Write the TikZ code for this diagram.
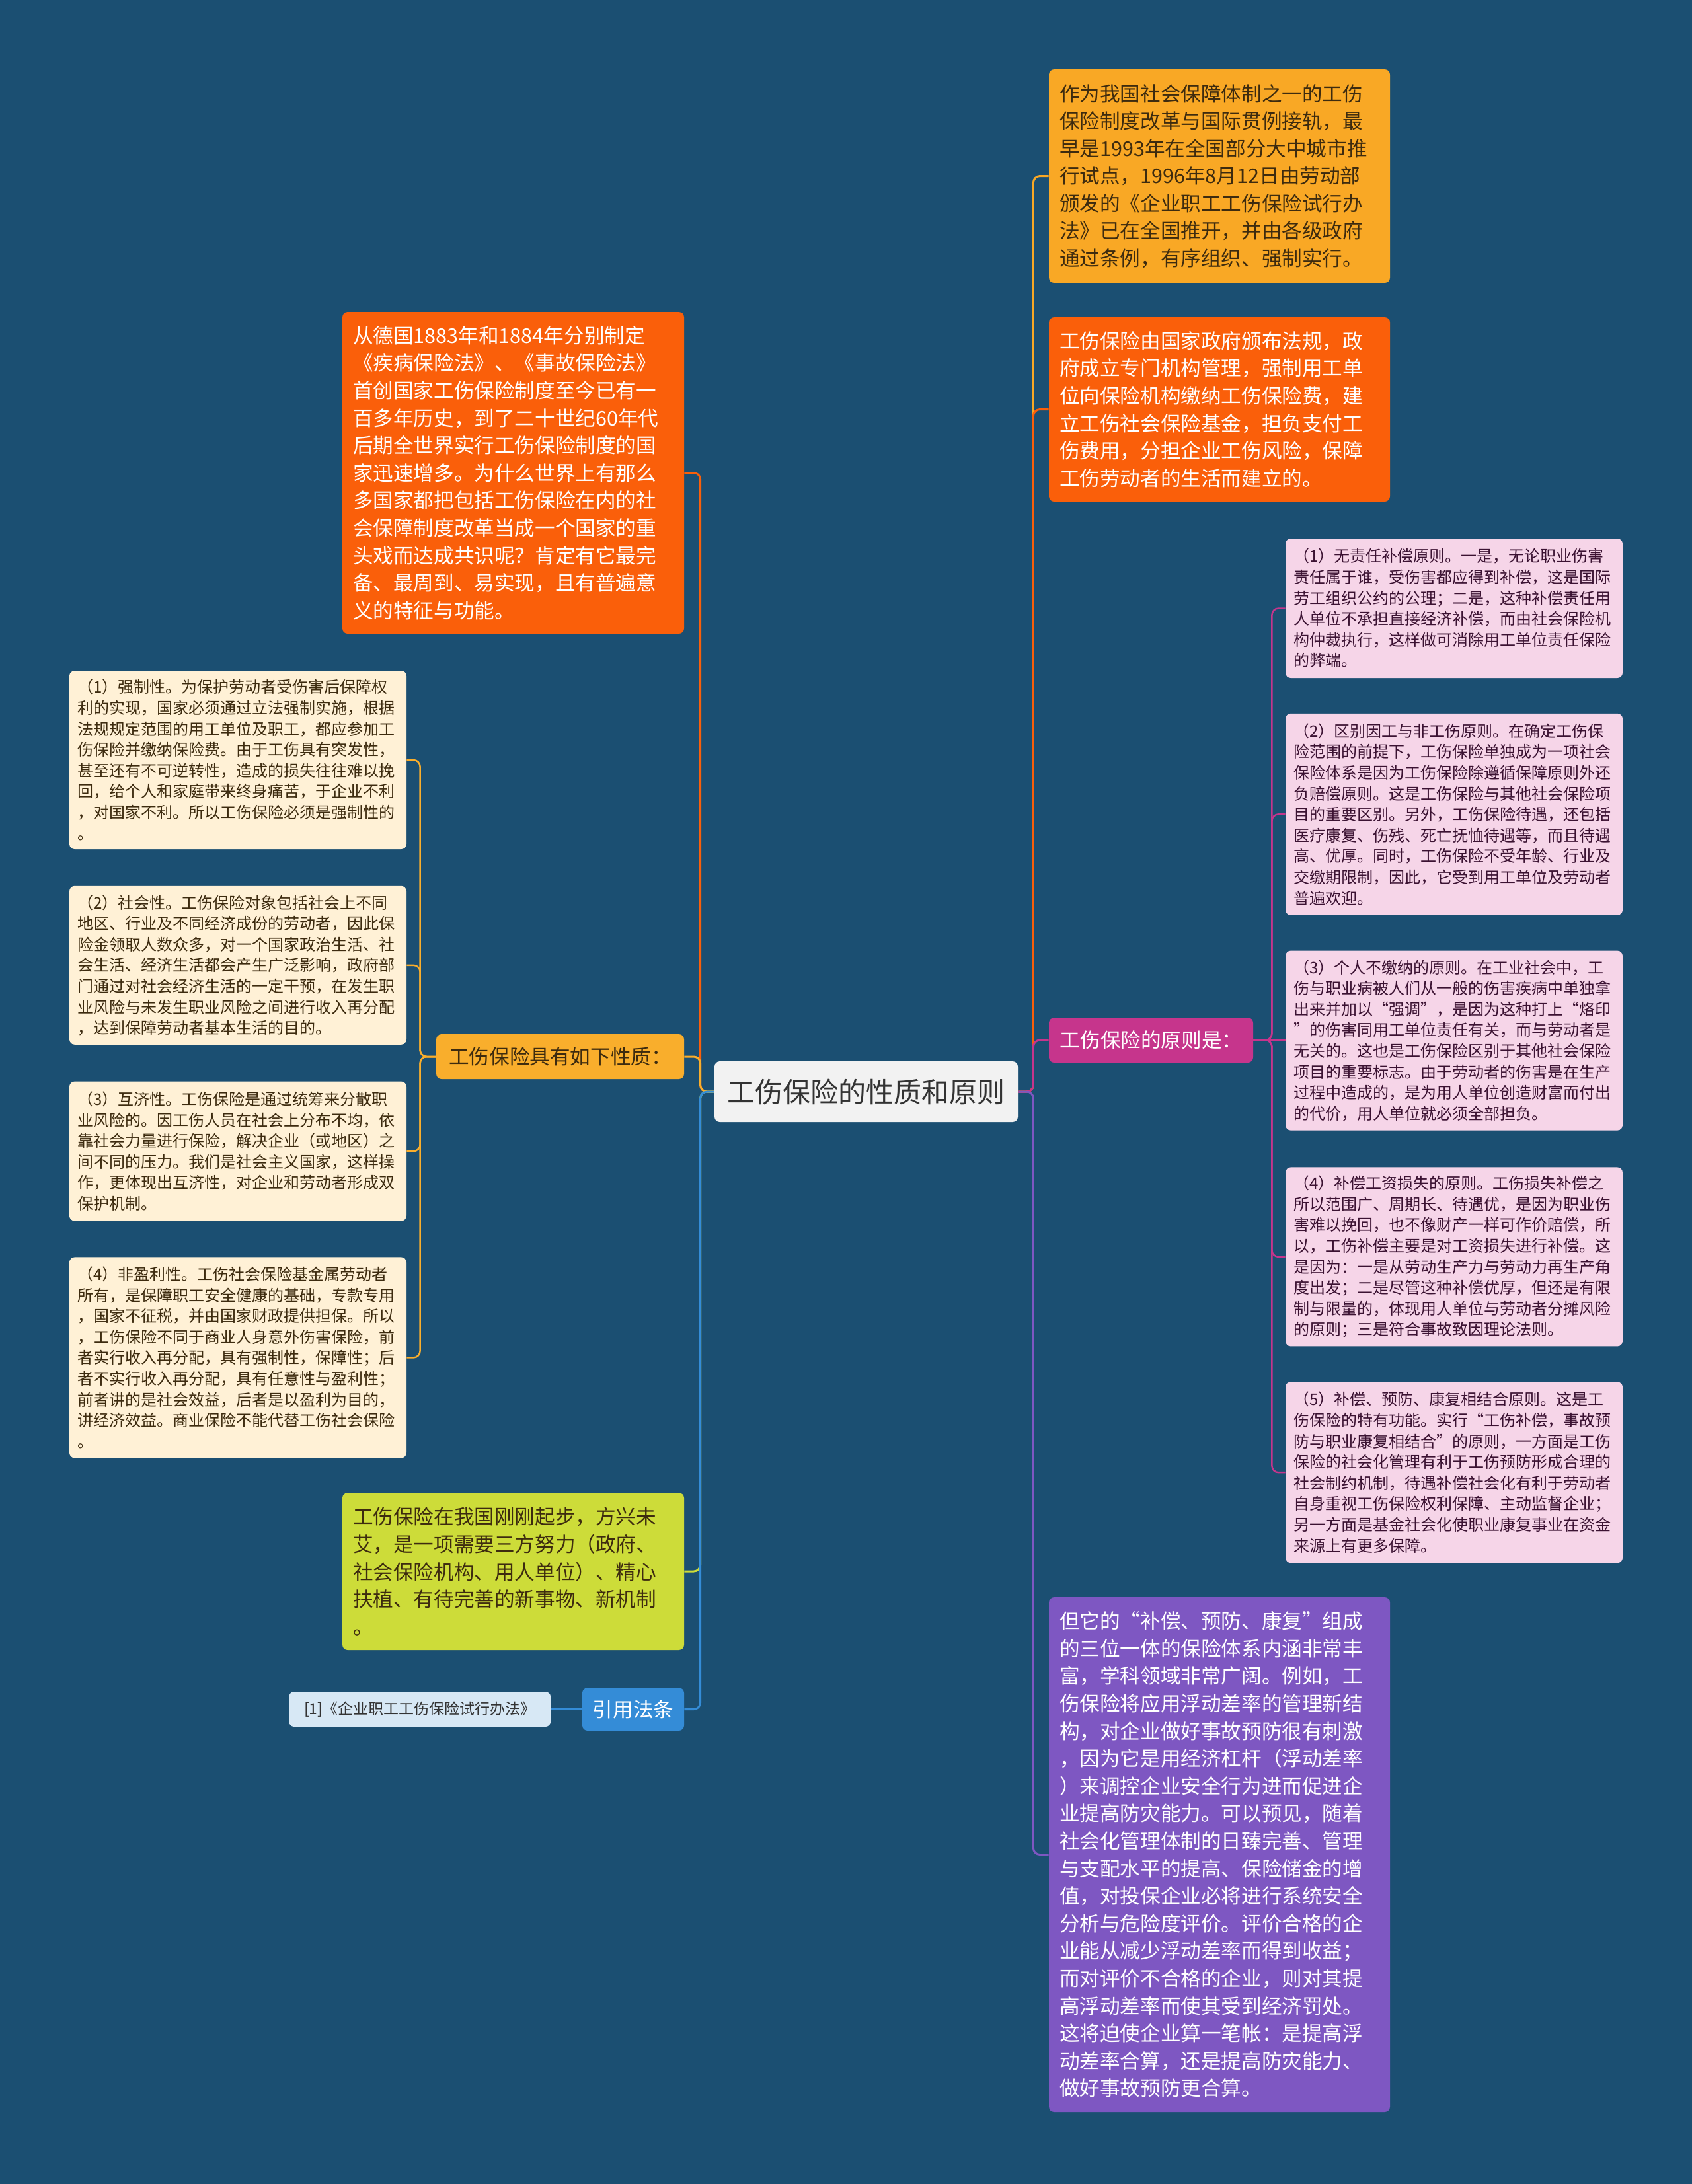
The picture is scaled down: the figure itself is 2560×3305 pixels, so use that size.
\documentclass[tikz,border=0pt]{standalone}
\usepackage{fontspec}
\setmainfont{Noto Sans CJK SC}
\usepackage{xcolor}
\usetikzlibrary{positioning}
\definecolor{fond}{HTML}{1B4F72}
\definecolor{ambre}{HTML}{F9A825}
\definecolor{ambreclair}{HTML}{F9AE2C}
\definecolor{orangevif}{HTML}{FA5F0A}
\definecolor{creme}{HTML}{FFF1D6}
\definecolor{citron}{HTML}{CDDC39}
\definecolor{bleu}{HTML}{348CD7}
\definecolor{bleupale}{HTML}{D7E8F5}
\definecolor{magenta}{HTML}{C6358C}
\definecolor{rose}{HTML}{F6D5E8}
\definecolor{violet}{HTML}{7E57C2}
\definecolor{griscentre}{HTML}{F2F2F2}
\definecolor{textefonce}{HTML}{3D2B0F}
\definecolor{texterose}{HTML}{3B1232}
\definecolor{textecentre}{HTML}{333333}
\tikzset{
  racine/.style={rectangle, rounded corners=4pt, fill=griscentre, text=textecentre,
    font=\fontsize{21}{26}\selectfont, minimum width=229.5pt, minimum height=46pt,
    align=center, inner sep=0pt},
  grandbloc/.style={rectangle, rounded corners=4pt, font=\fontsize{15.3}{20.8}\selectfont,
    text width=242pt, align=left, inner xsep=8pt, inner ysep=0pt},
  petitbloc/.style={rectangle, rounded corners=4pt, font=\fontsize{12}{15.8}\selectfont,
    text width=243pt, align=left, inner xsep=6pt, inner ysep=0pt},
  blocambre/.style={grandbloc, fill=ambre, text=textefonce},
  blocorange/.style={grandbloc, fill=orangevif, text=white},
  bloccitron/.style={grandbloc, fill=citron, text=textefonce},
  blocviolet/.style={grandbloc, fill=violet, text=white},
  bloccreme/.style={petitbloc, fill=creme, text=textefonce},
  blocrose/.style={petitbloc, fill=rose, text=texterose},
  titre/.style={rectangle, rounded corners=4pt, font=\fontsize{15.3}{20}\selectfont,
    align=center, inner sep=0pt, minimum height=34pt},
  reference/.style={rectangle, rounded corners=4pt, fill=bleupale, text=textecentre,
    font=\fontsize{11.5}{14}\selectfont, align=center, inner sep=0pt,
    minimum width=198pt, minimum height=26.5pt},
  lien/.style={line width=1.5pt, rounded corners=5pt},
  souslien/.style={line width=1.25pt, rounded corners=5pt}
}

\begin{document}
\begin{tikzpicture}[x=0.5pt, y=-0.5pt, node distance=26.5pt]
  \fill[fond] (0,0) rectangle (2560,3305);
  \useasboundingbox (0,0) rectangle (2560,3305);

  \node[racine] (centre) at (1310.5,1652) {工伤保险的性质和原则};

  % branches de droite
  \node[blocambre, minimum height=161.5pt] (essai) at (1845,266.5) {作为我国社会保障体制之一的工伤\\
保险制度改革与国际贯例接轨，最\\
早是1993年在全国部分大中城市推\\
行试点，1996年8月12日由劳动部\\
颁发的《企业职工工伤保险试行办\\
法》已在全国推开，并由各级政府\\
通过条例，有序组织、强制实行。};
  \node[blocorange, minimum height=139.5pt] (definition) at (1845,619.5) {工伤保险由国家政府颁布法规，政\\
府成立专门机构管理，强制用工单\\
位向保险机构缴纳工伤保险费，建\\
立工伤社会保险基金，担负支付工\\
伤费用，分担企业工伤风险，保障\\
工伤劳动者的生活而建立的。};
  \node[titre, fill=magenta, text=white, minimum width=154.5pt] (principes) at (1741.5,1574) {工伤保险的原则是：};
  \node[blocviolet, minimum height=389.5pt] (trinite) at (1845,2806.5) {但它的“补偿、预防、康复”组成\\
的三位一体的保险体系内涵非常丰\\
富，学科领域非常广阔。例如，工\\
伤保险将应用浮动差率的管理新结\\
构，对企业做好事故预防很有刺激\\
，因为它是用经济杠杆（浮动差率\\
）来调控企业安全行为进而促进企\\
业提高防灾能力。可以预见，随着\\
社会化管理体制的日臻完善、管理\\
与支配水平的提高、保险储金的增\\
值，对投保企业必将进行系统安全\\
分析与危险度评价。评价合格的企\\
业能从减少浮动差率而得到收益；\\
而对评价不合格的企业，则对其提\\
高浮动差率而使其受到经济罚处。\\
这将迫使企业算一笔帐：是提高浮\\
动差率合算，还是提高防灾能力、\\
做好事故预防更合算。};

  % principes
  \node[blocrose, minimum height=105.5pt] (pA) at (2200,920.5) {（1）无责任补偿原则。一是，无论职业伤害\\
责任属于谁，受伤害都应得到补偿，这是国际\\
劳工组织公约的公理；二是，这种补偿责任用\\
人单位不承担直接经济补偿，而由社会保险机\\
构仲裁执行，这样做可消除用工单位责任保险\\
的弊端。};
  \node[blocrose, minimum height=152.5pt, below=of pA] (pB) {（2）区别因工与非工伤原则。在确定工伤保\\
险范围的前提下，工伤保险单独成为一项社会\\
保险体系是因为工伤保险除遵循保障原则外还\\
负赔偿原则。这是工伤保险与其他社会保险项\\
目的重要区别。另外，工伤保险待遇，还包括\\
医疗康复、伤残、死亡抚恤待遇等，而且待遇\\
高、优厚。同时，工伤保险不受年龄、行业及\\
交缴期限制，因此，它受到用工单位及劳动者\\
普遍欢迎。};
  \node[blocrose, minimum height=136pt, below=of pB] (pC) {（3）个人不缴纳的原则。在工业社会中，工\\
伤与职业病被人们从一般的伤害疾病中单独拿\\
出来并加以“强调”，是因为这种打上“烙印\\
”的伤害同用工单位责任有关，而与劳动者是\\
无关的。这也是工伤保险区别于其他社会保险\\
项目的重要标志。由于劳动者的伤害是在生产\\
过程中造成的，是为用人单位创造财富而付出\\
的代价，用人单位就必须全部担负。};
  \node[blocrose, minimum height=135.5pt, below=27.5pt of pC] (pD) {（4）补偿工资损失的原则。工伤损失补偿之\\
所以范围广、周期长、待遇优，是因为职业伤\\
害难以挽回，也不像财产一样可作价赔偿，所\\
以，工伤补偿主要是对工资损失进行补偿。这\\
是因为：一是从劳动生产力与劳动力再生产角\\
度出发；二是尽管这种补偿优厚，但还是有限\\
制与限量的，体现用人单位与劳动者分摊风险\\
的原则；三是符合事故致因理论法则。};
  \node[blocrose, minimum height=137pt, below=of pD] (pE) {（5）补偿、预防、康复相结合原则。这是工\\
伤保险的特有功能。实行“工伤补偿，事故预\\
防与职业康复相结合”的原则，一方面是工伤\\
保险的社会化管理有利于工伤预防形成合理的\\
社会制约机制，待遇补偿社会化有利于劳动者\\
自身重视工伤保险权利保障、主动监督企业；\\
另一方面是基金社会化使职业康复事业在资金\\
来源上有更多保障。};

  % branches de gauche
  \node[blocorange, text width=242.5pt, minimum height=243.5pt] (histoire) at (776.5,715.5) {从德国1883年和1884年分别制定\\
《疾病保险法》、《事故保险法》\\
首创国家工伤保险制度至今已有一\\
百多年历史，到了二十世纪60年代\\
后期全世界实行工伤保险制度的国\\
家迅速增多。为什么世界上有那么\\
多国家都把包括工伤保险在内的社\\
会保障制度改革当成一个国家的重\\
头戏而达成共识呢？肯定有它最完\\
备、最周到、易实现，且有普遍意\\
义的特征与功能。};
  \node[titre, fill=ambreclair, text=textefonce, minimum width=187.5pt] (nature) at (847.5,1599) {工伤保险具有如下性质：};
  \node[bloccitron, text width=242.5pt, minimum height=119pt] (debut) at (776.5,2378) {工伤保险在我国刚刚起步，方兴未\\
艾，是一项需要三方努力（政府、\\
社会保险机构、用人单位）、精心\\
扶植、有待完善的新事物、新机制\\
。};
  \node[titre, fill=bleu, text=white, minimum width=77pt, minimum height=32.5pt] (loi) at (958,2586.5) {引用法条};
  \node[reference, left=23.5pt of loi] (loiA) {[1]《企业职工工伤保险试行办法》};

  % nature
  \node[bloccreme, minimum height=135pt] (nA) at (360,1150) {（1）强制性。为保护劳动者受伤害后保障权\\
利的实现，国家必须通过立法强制实施，根据\\
法规规定范围的用工单位及职工，都应参加工\\
伤保险并缴纳保险费。由于工伤具有突发性，\\
甚至还有不可逆转性，造成的损失往往难以挽\\
回，给个人和家庭带来终身痛苦，于企业不利\\
，对国家不利。所以工伤保险必须是强制性的\\
。};
  \node[bloccreme, minimum height=120pt, below=27.5pt of nA] (nB) {（2）社会性。工伤保险对象包括社会上不同\\
地区、行业及不同经济成份的劳动者，因此保\\
险金领取人数众多，对一个国家政治生活、社\\
会生活、经济生活都会产生广泛影响，政府部\\
门通过对社会经济生活的一定干预，在发生职\\
业风险与未发生职业风险之间进行收入再分配\\
，达到保障劳动者基本生活的目的。};
  \node[bloccreme, minimum height=105.5pt, below=27.5pt of nB] (nC) {（3）互济性。工伤保险是通过统筹来分散职\\
业风险的。因工伤人员在社会上分布不均，依\\
靠社会力量进行保险，解决企业（或地区）之\\
间不同的压力。我们是社会主义国家，这样操\\
作，更体现出互济性，对企业和劳动者形成双\\
保护机制。};
  \node[bloccreme, minimum height=152pt, below=27pt of nC] (nD) {（4）非盈利性。工伤社会保险基金属劳动者\\
所有，是保障职工安全健康的基础，专款专用\\
，国家不征税，并由国家财政提供担保。所以\\
，工伤保险不同于商业人身意外伤害保险，前\\
者实行收入再分配，具有强制性，保障性；后\\
者不实行收入再分配，具有任意性与盈利性；\\
前者讲的是社会效益，后者是以盈利为目的，\\
讲经济效益。商业保险不能代替工伤社会保险\\
。};

  % liens
  \draw[lien, ambre] (centre.east) -- ++(23,0) |- (essai.west);
  \draw[lien, orangevif] (centre.east) -- ++(23,0) |- (definition.west);
  \draw[lien, magenta] (centre.east) -- ++(23,0) |- (principes.west);
  \draw[lien, violet] (centre.east) -- ++(23,0) |- (trinite.west);
  \draw[lien, orangevif] (centre.west) -- ++(-21,0) |- (histoire.east);
  \draw[lien, ambreclair] (centre.west) -- ++(-21,0) |- (nature.east);
  \draw[lien, citron] (centre.west) -- ++(-21,0) |- (debut.east);
  \draw[lien, bleu] (centre.west) -- ++(-21,0) |- (loi.east);
  \draw[souslien, bleu] (loi.west) -- (loiA.east);
  \foreach \p in {pA, pB, pD, pE}
    \draw[souslien, magenta] (principes.east) -- ++(28,0) |- (\p.west);
  \draw[souslien, magenta] (principes.east) -- (principes.east -| pC.west);
  \foreach \n in {nA, nB, nC, nD}
    \draw[souslien, ambreclair] (nature.west) -- ++(-24,0) |- (\n.east);
\end{tikzpicture}
\end{document}
